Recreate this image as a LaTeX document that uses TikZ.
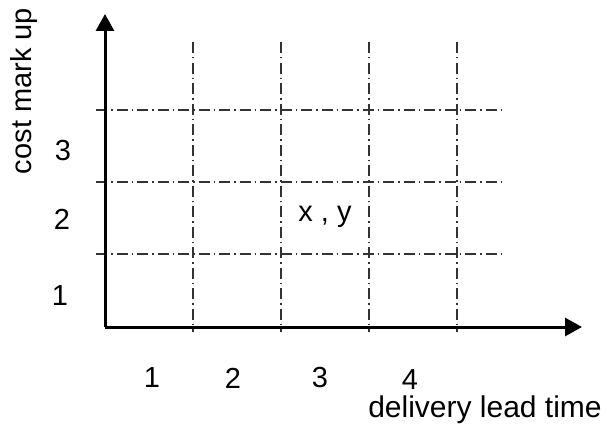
\documentclass[tikz,border=0pt]{standalone}
\usepackage{fontspec}
\setmainfont{Liberation Sans}
\usetikzlibrary{arrows.meta}
\begin{document}
\begin{tikzpicture}[x=1pt,y=-1pt,
  axis/.style={line width=3pt,-{Triangle[length=17pt,width=18pt]}},
  gridline/.style={line width=1.4pt,black!80,dash pattern=on 11pt off 4pt on 1.5pt off 4pt},
  lbl/.style={font=\fontsize{29}{32}\selectfont,inner sep=0pt}]
\useasboundingbox (0,0) rectangle (607,428);
% grid
\foreach \x in {193,281,369,457} \draw[gridline] (\x,42) -- (\x,332);
\foreach \y in {110,182,254} \draw[gridline] (96,\y) -- (502,\y);
% axes
\coordinate (o) at (105,327);
\coordinate (ytip) at (105,14);
\coordinate (xtip) at (582,327);
\draw[axis] (o) -- (ytip);
\draw[axis] (o) -- (xtip);
% labels
\node[lbl,rotate=90] (ylab) at (24,91) {cost mark up};
\node[lbl] (y3) at (63,151) {3};
\node[lbl] (y2) at (62,219) {2};
\node[lbl] (y1) at (60,296) {1};
\node[lbl] (x1) at (152,378) {1};
\node[lbl] (x2) at (233,378) {2};
\node[lbl] (x3) at (320,378) {3};
\node[lbl] (x4) at (410,380) {4};
\node[lbl,font=\fontsize{30}{33}\selectfont] (xlab) at (485,410) {delivery lead time};
\node[lbl] (xy) at (325,217) {x , y};
\end{tikzpicture}
\end{document}
